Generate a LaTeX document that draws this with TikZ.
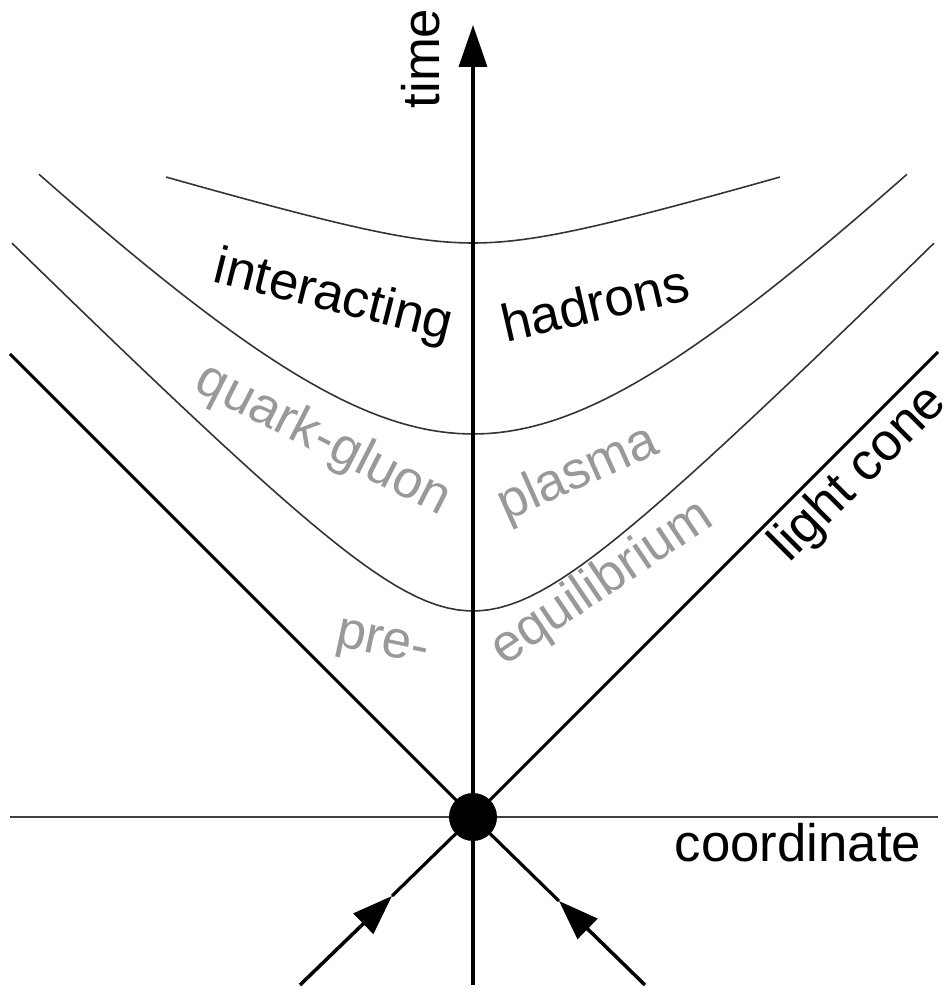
\documentclass[tikz,border=0pt]{standalone}
\usepackage{fontspec}
\setmainfont{Liberation Sans}
\usetikzlibrary{arrows.meta}
\definecolor{phasegray}{gray}{0.6}

\tikzset{
  cone/.style={line width=0.9pt},
  boundary/.style={line width=0.45pt, color=black!80},
  beam/.style={line width=1pt, -{Triangle[length=4mm,width=2.8mm]}},
  lbl/.style={anchor=base, inner sep=0pt, font=\fontsize{15}{18}\selectfont},
  phase/.style={lbl, text=phasegray}
}

\begin{document}
\begin{tikzpicture}[x=1cm,y=1cm]
    \useasboundingbox (-4.73,-1.76) rectangle (4.75,8.17);
    % collision point and line ends
    \coordinate (O) at (0,0);
    \coordinate (coneL) at (-4.63,4.63);
    \coordinate (coneR) at (4.65,4.65);
    \coordinate (inL) at (-1.73,-1.68);
    \coordinate (inR) at (1.72,-1.68);
    \coordinate (tipL) at (-0.81,-0.79);
    \coordinate (tipR) at (0.86,-0.84);
    \coordinate (tbot) at (0,-1.68);
    \coordinate (ttop) at (0,7.92);
    \coordinate (xL) at (-4.63,0);
    \coordinate (xR) at (4.65,0);
    % proper-time boundaries
    \draw[boundary, domain=-4.61:4.61, samples=90] plot (\x,{1.01+sqrt(1.05*1.05+\x*\x)});
    \draw[boundary, domain=-4.34:4.34, samples=90] plot (\x,{1.503+sqrt(2.327*2.327+\x*\x)});
    \draw[boundary, domain=-3.07:3.07, samples=70] plot (\x,{5.74+0.296*(sqrt(1+\x*\x)-1)});
    % axes
    \draw[line width=0.6pt, color=black!75] (xL) -- (xR);
    \draw[line width=1pt, -{Triangle[length=4.2mm,width=2.8mm]}] (tbot) -- (ttop);
    % light cone and incoming nuclei
    \draw[cone] (coneL) -- (O) -- (coneR);
    \draw[beam] (inL) -- (tipL);
    \draw[beam] (inR) -- (tipR);
    \draw[cone] (tipL) -- (O) -- (tipR);
    \node[circle, fill=black, minimum size=4.8mm, inner sep=0pt] (hit) at (O) {};
    % labels
    \node[lbl, rotate=90] (time) at (-0.33,7.585) {time};
    \node[lbl] (coord) at (3.25,-0.45) {coordinate};
    \node[lbl, rotate=45] (lightcone) at (3.96,3.33) {light cone};
    \node[lbl, rotate=-14] (interact) at (-1.43,5.06) {interacting};
    \node[lbl, rotate=13] (hadrons) at (1.26,4.96) {hadrons};
    \node[phase, rotate=-27] (qg) at (-1.56,3.64) {quark-gluon};
    \node[phase, rotate=24] (plasma) at (1.11,3.30) {plasma};
    \node[phase, rotate=-12] (pre) at (-0.93,1.62) {pre-};
    \node[phase, rotate=34] (equil) at (1.37,2.22) {equilibrium};
\end{tikzpicture}
\end{document}
